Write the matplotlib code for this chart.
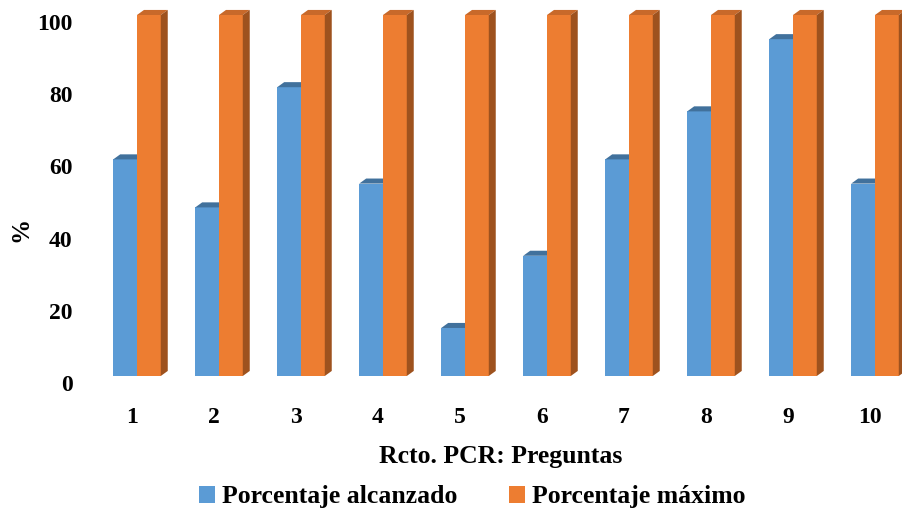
import matplotlib
matplotlib.use("Agg")
import matplotlib.pyplot as plt
from matplotlib.patches import Polygon, Patch
from matplotlib.transforms import ScaledTranslation
import numpy as np

plt.rcParams['font.family'] = ['Liberation Serif', 'DejaVu Serif']
plt.rcParams['font.weight'] = 'bold'

# Data
preguntas = ['1', '2', '3', '4', '5', '6', '7', '8', '9', '10']
alcanzado = [60.0, 46.7, 80.0, 53.3, 13.3, 33.3, 60.0, 73.3, 93.3, 53.3]
maximo = [100, 100, 100, 100, 100, 100, 100, 100, 100, 100]
series_names = ['Porcentaje alcanzado', 'Porcentaje máximo']
y_ticks = [0, 20, 40, 60, 80, 100]

# Colours: front, top, side
blue = ('#5B9BD5', '#41719C', '#3E6E99')
orange = ('#ED7D31', '#C8692A', '#9E521E')

W, H = 903, 513
fig = plt.figure(figsize=(W / 100, H / 100), dpi=100)
ax = fig.add_axes([96 / W, 137 / H, (W - 96) / W, (508 - 137) / H])
ax.set_xlim(-0.5, -0.5 + (W - 96) / 82)
ax.set_ylim(0, (376 - 5) / 3.61)

bar_w = 0.29
dx = 0.085   # depth offset along x (data units)
dy = 1.4     # depth offset along y (data units)
x = np.arange(len(preguntas))


def bar3d(xc, vals, cols, z):
    ax.bar(xc, vals, width=bar_w, align='edge', color=cols[0], zorder=z, linewidth=0)
    for x0, h in zip(xc, vals):
        x1 = x0 + bar_w
        top = Polygon([(x0, h), (x1, h), (x1 + dx, h + dy), (x0 + dx, h + dy)],
                      closed=True, facecolor=cols[1], edgecolor='none', zorder=z)
        side = Polygon([(x1, 0), (x1 + dx, dy), (x1 + dx, h + dy), (x1, h)],
                       closed=True, facecolor=cols[2], edgecolor='none', zorder=z)
        ax.add_patch(top)
        ax.add_patch(side)


bar3d(x - bar_w, alcanzado, blue, 2)
bar3d(x, maximo, orange, 3)

for s in ax.spines.values():
    s.set_visible(False)

ax.set_yticks(y_ticks)
ax.set_yticklabels([str(v) for v in y_ticks], fontsize=17, fontweight='bold')
ax.tick_params(axis='y', length=0, pad=17)
for lab in ax.get_yticklabels():
    lab.set_transform(lab.get_transform() + ScaledTranslation(0, -0.07, fig.dpi_scale_trans))

ax.set_xticks(x)
ax.set_xticklabels(preguntas, fontsize=17, fontweight='bold')
ax.tick_params(axis='x', length=0, pad=22)
for lab in ax.get_xticklabels():
    lab.set_transform(lab.get_transform() + ScaledTranslation(-0.05, 0, fig.dpi_scale_trans))

ax.set_xlabel('Rcto. PCR: Preguntas', fontsize=18.5, fontweight='bold', va='center')
ax.xaxis.set_label_coords((501 - 96) / (W - 96), -(456 - 376) / (376 - 5))
ax.set_ylabel('%', fontsize=18, fontweight='bold', va='center')
ax.yaxis.set_label_coords(-(96 - 21) / (W - 96), (376 - 229) / (376 - 5))

handles = [Patch(facecolor=blue[0], label=series_names[0]),
           Patch(facecolor=orange[0], label=series_names[1])]
fig.legend(handles=handles, loc='center', bbox_to_anchor=(472 / W, 1 - 497 / H),
           ncol=2, frameon=False, handlelength=0.65, handleheight=0.65,
           handletextpad=0.25, columnspacing=2.0, borderpad=0,
           prop={'weight': 'bold', 'size': 18.5})

fig.savefig('out.png', dpi=100)
